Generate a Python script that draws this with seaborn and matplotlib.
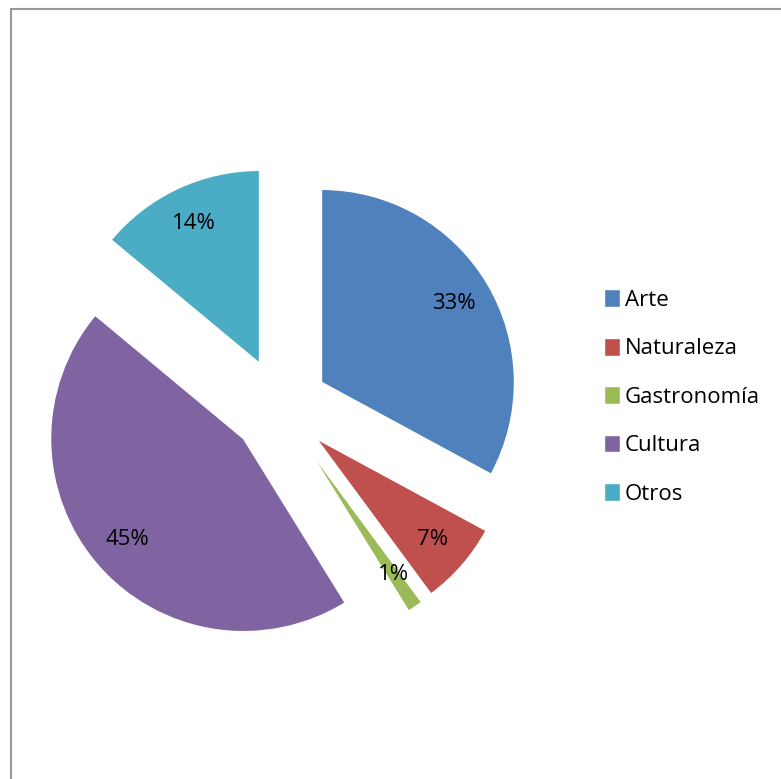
import matplotlib
matplotlib.use("Agg")
import matplotlib.pyplot as plt
from matplotlib.lines import Line2D
import seaborn as sns

categorias = ["Arte", "Naturaleza", "Gastronomía", "Cultura", "Otros"]
porcentajes = [33, 7, 1.3, 45, 14]
colores = ["#4F81BD", "#C0504D", "#9BBB59", "#8064A2", "#4BACC6"]

sns.set_style("white")
plt.rcParams["font.family"] = ["Open Sans", "DejaVu Sans"]
plt.rcParams["text.color"] = "black"

W, H = 781, 779
fig = plt.figure(figsize=(W / 100, H / 100), dpi=100)

# pie centre ~ (280, 407) px from top-left, radius ~193 px
L = 1.4
side = 2 * L * 193
cx, cy = 280, H - 407
ax = fig.add_axes([(cx - side / 2) / W, (cy - side / 2) / H, side / W, side / H])

wedges, texts, autotexts = ax.pie(
    porcentajes,
    colors=colores,
    startangle=90,
    counterclock=False,
    explode=[0.25] * len(porcentajes),
    autopct=lambda p: f"{p:.0f}%",
    pctdistance=0.8,
    textprops={"fontsize": 16, "color": "black"},
)
ax.set_xlim(-L, L)
ax.set_ylim(-L, L)
ax.set_aspect("equal")
ax.axis("off")

ax.legend(
    wedges,
    categorias,
    loc="center left",
    bbox_to_anchor=(604 / W, 1 - 397 / H),
    bbox_transform=fig.transFigure,
    frameon=False,
    fontsize=16,
    labelcolor="black",
    handlelength=0.7,
    handleheight=0.85,
    handletextpad=0.25,
    labelspacing=1.21,
    borderpad=0,
    borderaxespad=0,
)

# chart area border (only left and top edges are visible)
x0 = 10.5 / W
y0 = 1 - 8.5 / H
fig.add_artist(Line2D([x0, x0], [0, y0], transform=fig.transFigure, color="#999999", lw=1.5))
fig.add_artist(Line2D([x0, 1], [y0, y0], transform=fig.transFigure, color="#999999", lw=1.5))

fig.savefig("out.png", dpi=100)
